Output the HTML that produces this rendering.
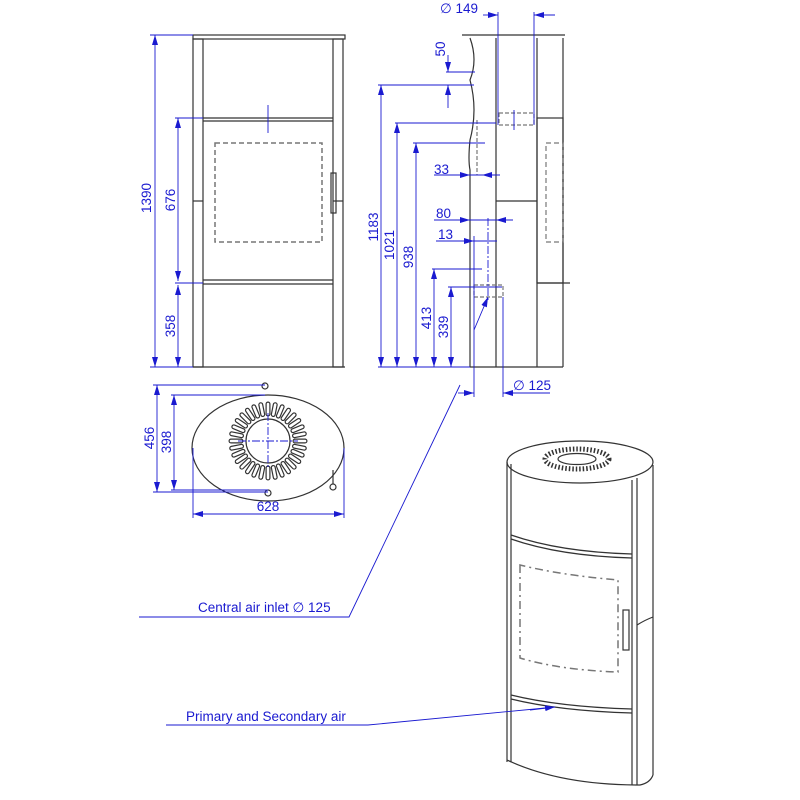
<!DOCTYPE html>
<html><head><meta charset="utf-8"><style>body{margin:0;background:#fff}svg{display:block}text{font-family:"Liberation Sans",sans-serif;fill:#1a1ad0;font-size:13.5px}</style></head><body>
<svg id="s" width="800" height="800" viewBox="0 0 800 800" xmlns="http://www.w3.org/2000/svg">
<defs><marker id="a" markerWidth="10" markerHeight="6" refX="10" refY="3" orient="auto-start-reverse" markerUnits="userSpaceOnUse"><path d="M0,0 L10,3 L0,6z" fill="#1a1ad0"/></marker></defs>
<g fill="none" stroke="#333" stroke-width="1.2">
<rect x="193" y="35" width="152" height="4"/>
<rect x="193" y="39" width="10" height="328"/>
<rect x="333" y="39" width="10" height="328"/>
<line x1="203" y1="118" x2="333" y2="118"/><line x1="203" y1="121" x2="333" y2="121"/>
<line x1="203" y1="280" x2="333" y2="280"/><line x1="203" y1="284" x2="333" y2="284"/>
<line x1="193" y1="201" x2="203" y2="201"/><line x1="333" y1="201" x2="343" y2="201"/>
<rect x="331" y="173" width="5" height="40"/>
<rect x="215" y="143" width="107" height="99" stroke="#777" stroke-dasharray="5,3" stroke-width="1.5"/>
<line x1="193" y1="367" x2="345" y2="367"/>
<path d="M462,35 L565,35"/>
<path d="M470,38 Q478,60 470,80 Q478,110 470,140 Q468,160 470,170 L470,367"/>
<line x1="496" y1="38" x2="496" y2="367"/><line x1="537" y1="38" x2="537" y2="367"/>
<line x1="563" y1="38" x2="563" y2="367"/>
<line x1="470" y1="367" x2="563" y2="367"/>
<line x1="496" y1="201" x2="537" y2="201"/>
<rect x="537" y="118" width="26" height="165"/>
<line x1="537" y1="283" x2="570" y2="283"/>
<rect x="546" y="143" width="17" height="99" stroke="#777" stroke-dasharray="5,3"/>
<rect x="499" y="113" width="35" height="12" stroke="#777" stroke-dasharray="4,2"/>
<rect x="474" y="285" width="29" height="12" stroke="#777" stroke-dasharray="4,2"/>
<line x1="477" y1="120" x2="477" y2="175" stroke="#777" stroke-dasharray="4,2"/>
<ellipse cx="268" cy="448" rx="76" ry="53"/>
<circle cx="268" cy="441" r="22"/>
<circle cx="265" cy="386" r="3"/><circle cx="268" cy="493" r="3"/>
<path d="M333,470 L333,484"/><circle cx="333" cy="487" r="3"/>
<g id="slots"></g>
<ellipse cx="580" cy="462" rx="73" ry="21"/>
<ellipse cx="577" cy="459" rx="32" ry="10" stroke-width="5" stroke-dasharray="1.5,2"/>
<ellipse cx="577" cy="459" rx="19" ry="5.5" fill="#fff"/>
<line x1="507" y1="462" x2="507" y2="762"/>
<line x1="511" y1="464" x2="511" y2="762"/>
<line x1="632" y1="480" x2="632" y2="785"/><line x1="637" y1="478" x2="637" y2="785"/>
<line x1="653" y1="465" x2="653" y2="775"/>
<path d="M507,760 Q560,785 640,785 Q650,783 653,775"/>
<path d="M511,535 Q560,552 632,554"/><path d="M511,539 Q560,556 632,558"/>
<path d="M511,695 Q560,707 632,709"/><path d="M511,699 Q560,711 632,713"/>
<path d="M637,625 Q645,620 653,617"/>
<rect x="623" y="610" width="6" height="40"/>
<path d="M520,565 L520,658 Q560,670 618,672 L618,580 Q560,575 520,565z" stroke="#777" stroke-dasharray="8,4,2,4" stroke-width="1.5"/>
</g>
<g stroke="#1a1ad0" stroke-width="0.9" fill="none">
<line x1="150" y1="35" x2="193" y2="35"/><line x1="150" y1="367" x2="193" y2="367"/>
<line x1="155" y1="35" x2="155" y2="367" marker-start="url(#a)" marker-end="url(#a)"/>
<line x1="175" y1="118" x2="203" y2="118"/><line x1="175" y1="283" x2="203" y2="283"/>
<line x1="178" y1="118" x2="178" y2="281" marker-start="url(#a)" marker-end="url(#a)"/>
<line x1="178" y1="285" x2="178" y2="367" marker-start="url(#a)" marker-end="url(#a)"/>
<line x1="268" y1="105" x2="268" y2="133"/>
<line x1="378" y1="367" x2="470" y2="367"/>
<line x1="378" y1="85" x2="474" y2="85"/><line x1="395" y1="123" x2="496" y2="123"/>
<line x1="413" y1="143" x2="485" y2="143"/><line x1="432" y1="269" x2="482" y2="269"/>
<line x1="448" y1="287" x2="502" y2="287"/><line x1="446" y1="72" x2="475" y2="72"/>
<line x1="381" y1="85" x2="381" y2="367" marker-start="url(#a)" marker-end="url(#a)"/>
<line x1="397" y1="123" x2="397" y2="367" marker-start="url(#a)" marker-end="url(#a)"/>
<line x1="416" y1="143" x2="416" y2="367" marker-start="url(#a)" marker-end="url(#a)"/>
<line x1="434" y1="269" x2="434" y2="367" marker-start="url(#a)" marker-end="url(#a)"/>
<line x1="451" y1="287" x2="451" y2="367" marker-start="url(#a)" marker-end="url(#a)"/>
<line x1="448" y1="55" x2="448" y2="72" marker-end="url(#a)"/>
<line x1="448" y1="108" x2="448" y2="85" marker-end="url(#a)"/>
<line x1="434" y1="175" x2="500" y2="175"/>
<line x1="455" y1="175" x2="470" y2="175" marker-end="url(#a)"/><line x1="498" y1="175" x2="482" y2="175" marker-end="url(#a)"/>
<line x1="434" y1="220" x2="513" y2="220"/>
<line x1="455" y1="220" x2="470" y2="220" marker-end="url(#a)"/><line x1="513" y1="220" x2="496" y2="220" marker-end="url(#a)"/>
<line x1="436" y1="241" x2="497" y2="241"/>
<line x1="455" y1="241" x2="474" y2="241" marker-end="url(#a)"/><line x1="497" y1="241" x2="488" y2="241"/>
<line x1="488" y1="218" x2="488" y2="300" stroke-dasharray="8,2,2,2"/>
<line x1="474" y1="236" x2="474" y2="397"/>
<line x1="503" y1="297" x2="503" y2="397"/>
<line x1="458" y1="393" x2="474" y2="393" marker-end="url(#a)"/><line x1="550" y1="393" x2="503" y2="393" marker-end="url(#a)"/>
<line x1="498" y1="12" x2="498" y2="125"/><line x1="534" y1="12" x2="534" y2="125"/>
<line x1="483" y1="15" x2="498" y2="15" marker-end="url(#a)"/><line x1="555" y1="15" x2="534" y2="15" marker-end="url(#a)"/>
<line x1="514" y1="110" x2="514" y2="130"/>
<line x1="474" y1="330" x2="488" y2="297" marker-end="url(#a)"/>
<line x1="153" y1="385" x2="265" y2="385"/><line x1="153" y1="492" x2="268" y2="492"/>
<line x1="157" y1="385" x2="157" y2="492" marker-start="url(#a)" marker-end="url(#a)"/>
<line x1="171" y1="395" x2="265" y2="395"/><line x1="171" y1="490" x2="268" y2="490"/>
<line x1="174" y1="395" x2="174" y2="490" marker-start="url(#a)" marker-end="url(#a)"/>
<line x1="193" y1="448" x2="193" y2="518"/><line x1="344" y1="448" x2="344" y2="518"/>
<line x1="193" y1="514" x2="344" y2="514" marker-start="url(#a)" marker-end="url(#a)"/>
<line x1="238" y1="441" x2="298" y2="441" stroke-dasharray="8,2,2,2"/>
<line x1="268" y1="413" x2="268" y2="469" stroke-dasharray="8,2,2,2"/>
<polyline points="139,617 349,617 460,385"/>
<polyline points="166,725 368,725 545,708"/>
<line x1="530" y1="710" x2="555" y2="707" marker-end="url(#a)"/>
</g>
<g>
<text transform="translate(151,198) rotate(-90)" text-anchor="middle">1390</text>
<text transform="translate(175,200) rotate(-90)" text-anchor="middle">676</text>
<text transform="translate(175,326) rotate(-90)" text-anchor="middle">358</text>
<text transform="translate(378,227) rotate(-90)" text-anchor="middle">1183</text>
<text transform="translate(394,245) rotate(-90)" text-anchor="middle">1021</text>
<text transform="translate(413,257) rotate(-90)" text-anchor="middle">938</text>
<text transform="translate(431,318) rotate(-90)" text-anchor="middle">413</text>
<text transform="translate(448,327) rotate(-90)" text-anchor="middle">339</text>
<text transform="translate(445,49) rotate(-90)" text-anchor="middle">50</text>
<text x="434" y="174">33</text><text x="436" y="218">80</text><text x="438" y="239">13</text>
<text x="440" y="13">∅ 149</text>
<text x="513" y="390">∅ 125</text>
<text transform="translate(154,438) rotate(-90)" text-anchor="middle">456</text>
<text transform="translate(171,442) rotate(-90)" text-anchor="middle">398</text>
<text x="268" y="511" text-anchor="middle">628</text>
<text x="198" y="612">Central air inlet ∅ 125</text>
<text x="186" y="721">Primary and Secondary air</text>
</g>
</svg>
<script>
var g=document.getElementById('slots'),h='',n=32;
for(var i=0;i<n;i++){var t=i*2*Math.PI/n,c=Math.cos(t),s=Math.sin(t);
var r1=27,r2=37;var x1=268+r1*c,y1=441+r1*s,x2=268+r2*c,y2=441+r2*s;
h+='<line x1="'+x1+'" y1="'+y1+'" x2="'+x2+'" y2="'+y2+'" stroke="#333" stroke-width="5" stroke-linecap="round"/><line x1="'+x1+'" y1="'+y1+'" x2="'+x2+'" y2="'+y2+'" stroke="#fff" stroke-width="2.6" stroke-linecap="round"/>';}
g.innerHTML=h;
</script>
</body></html>
